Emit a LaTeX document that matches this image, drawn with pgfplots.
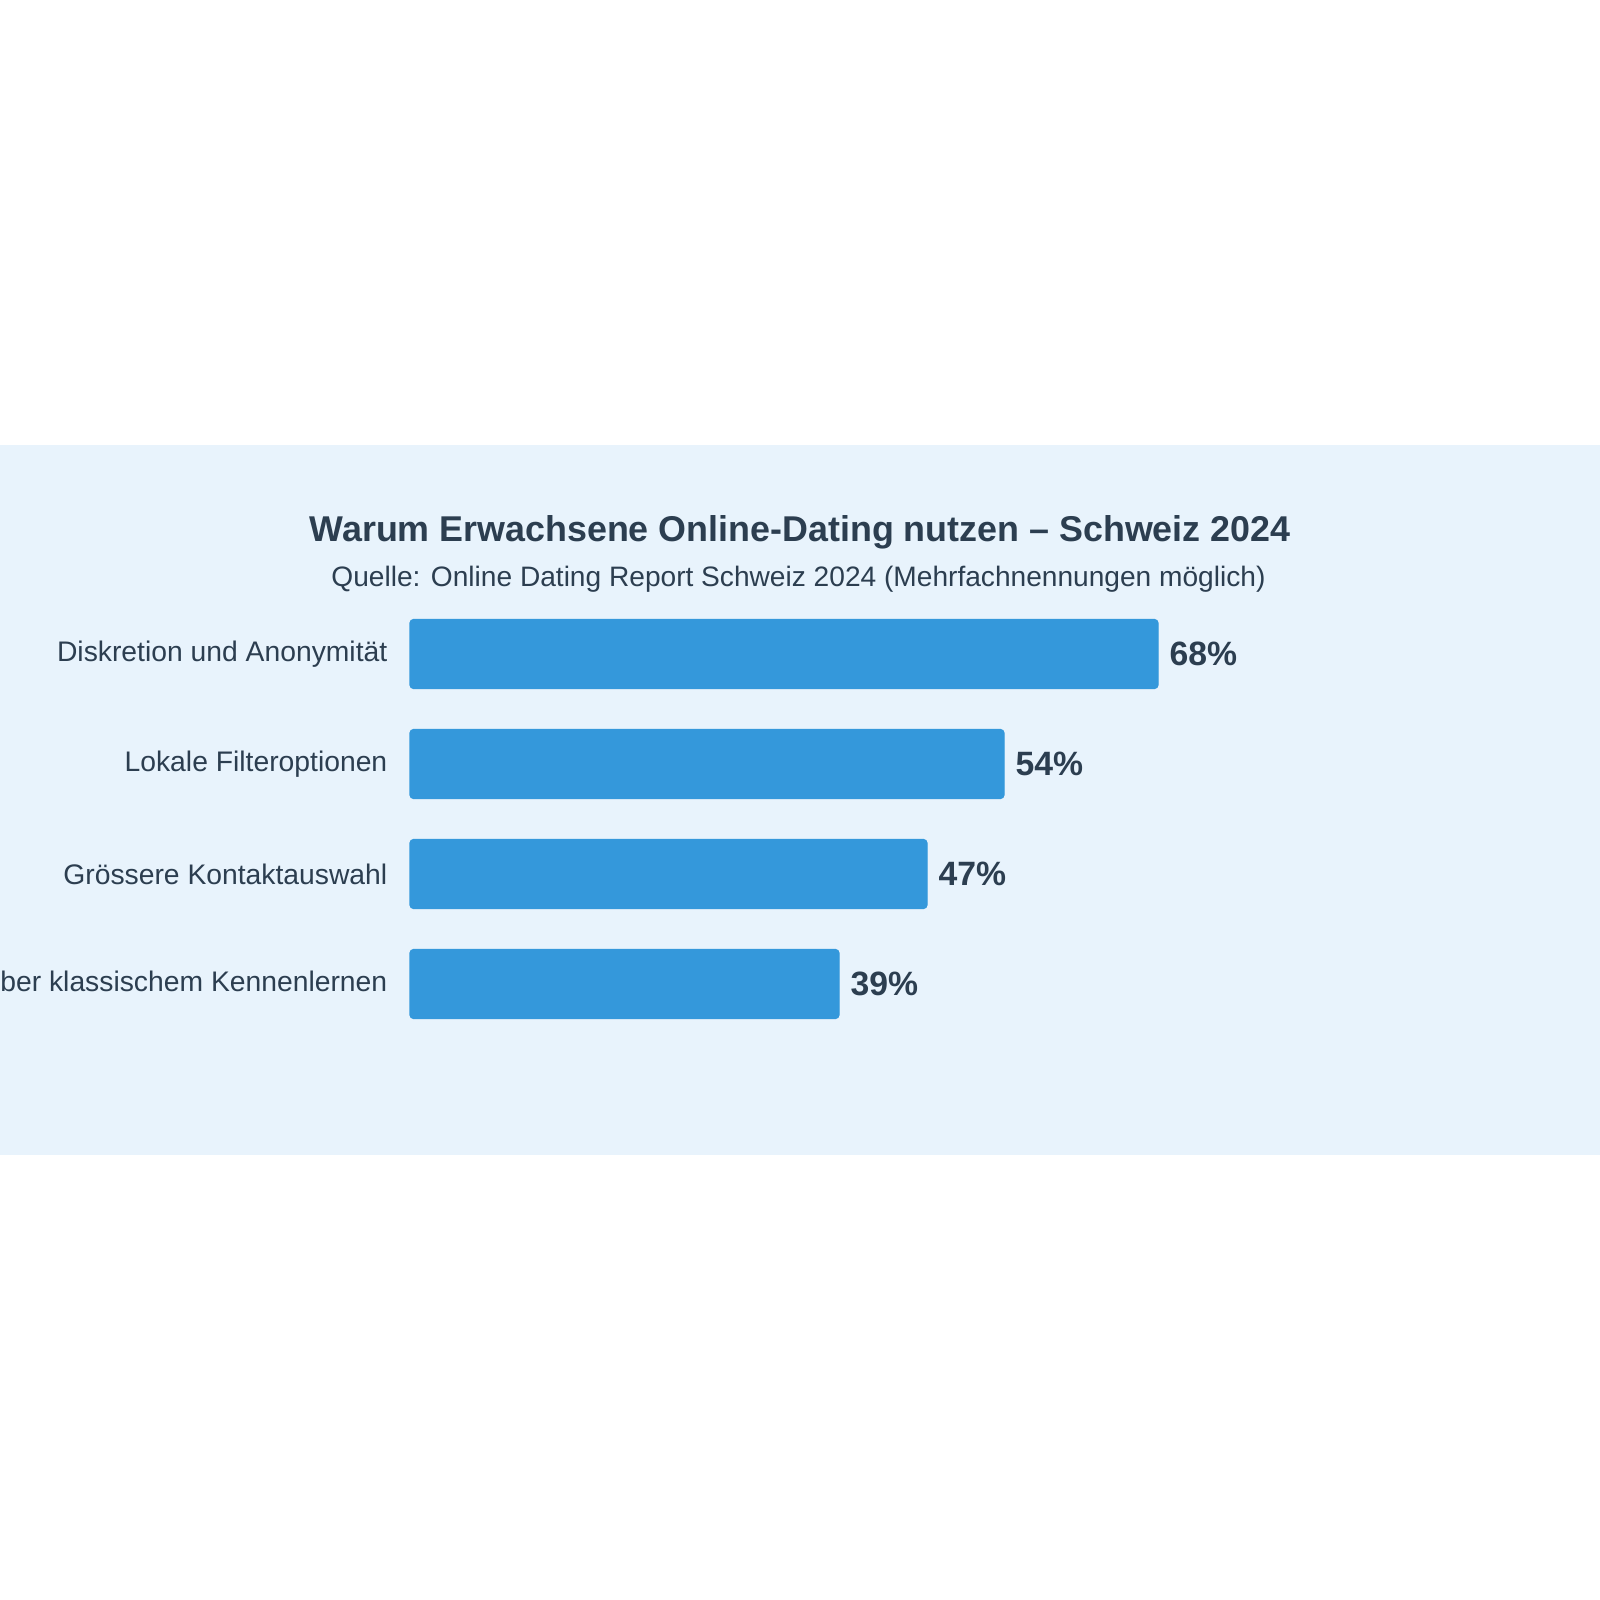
\documentclass[border=0pt]{standalone}
\usepackage{pgfplots}
\pgfplotsset{compat=1.18}
\usepackage{fontspec}
\setmainfont{Liberation Sans}
\definecolor{panel}{RGB}{232,243,252}
\definecolor{barblue}{RGB}{52,152,219}
\definecolor{txt}{RGB}{44,62,80}
\begin{document}
\begin{tikzpicture}
\useasboundingbox (0,0) rectangle (16,16);
\fill[white] (0,0) rectangle (16,16);
\fill[panel] (0,4.45) rectangle (16,11.55);
\node[text=txt, font=\fontsize{10.2pt}{12pt}\selectfont\bfseries] at (8.0,10.675) {Warum Erwachsene Online-Dating nutzen – Schweiz 2024};
\node[text=txt, font=\fontsize{8.0pt}{9.6pt}\selectfont] at (7.985,10.205) {Quelle: Online Dating Report Schweiz 2024 (Mehrfachnennungen möglich)};
\begin{axis}[
  at={(4.10cm,5.61cm)}, anchor=south west,
  scale only axis, width=11cm, height=4.4cm,
  xmin=0, xmax=100, ymin=-0.5, ymax=3.5,
  y dir=reverse,
  axis line style={draw=none},
  major tick length=0pt,
  xtick=\empty,
  ytick={0,1,2,3},
  yticklabels={Diskretion und Anonymität, Lokale Filteroptionen, Grössere Kontaktauswahl, Zeitersparnis gegenüber klassischem Kennenlernen},
  yticklabel style={text=txt, font=\fontsize{8.05pt}{9.6pt}\selectfont, inner sep=0pt, xshift=-0.22cm},
  /pgf/number format/assume math mode=true,
  xbar, bar width=0.69cm,
  nodes near coords={\pgfmathprintnumber{\pgfplotspointmeta}\%},
  nodes near coords style={text=txt, font=\fontsize{9.6pt}{11pt}\selectfont\bfseries, anchor=west, inner sep=0pt, xshift=0.11cm},
  clip=false,
]
\addplot[fill=barblue, draw=barblue, rounded corners=1.1pt] coordinates {(68,0) (54,1) (47,2) (39,3)};
\end{axis}
\end{tikzpicture}
\end{document}
